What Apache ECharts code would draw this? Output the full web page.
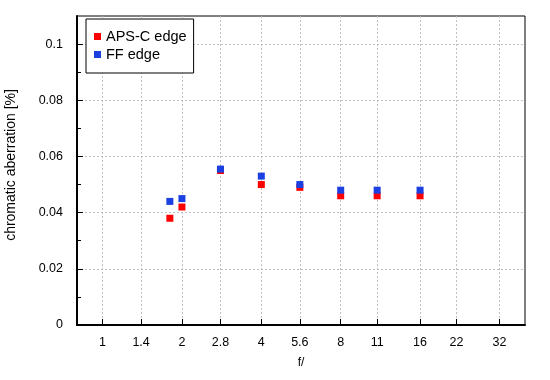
<!DOCTYPE html>
<html>
<head>
<meta charset="utf-8">
<script src="https://cdn.jsdelivr.net/npm/echarts@6/dist/echarts.min.js"></script>
<style>
html,body{margin:0;padding:0;background:#fff;}
#chart{width:550px;height:380px;}
</style>
</head>
<body>
<div id="chart"></div>
<script>
// ---- data ----
var apertures = [1.8, 2, 2.8, 4, 5.6, 8, 11, 16];
var apscEdge = [0.038, 0.042, 0.055, 0.050, 0.049, 0.046, 0.046, 0.046];
var ffEdge = [0.044, 0.045, 0.0555, 0.053, 0.050, 0.048, 0.048, 0.048];
var xTickValues = [1, 1.4, 2, 2.8, 4, 5.6, 8, 11, 16, 22, 32];
var xTickLabels = ['1', '1.4', '2', '2.8', '4', '5.6', '8', '11', '16', '22', '32'];
var yMajorTicks = [0, 0.02, 0.04, 0.06, 0.08, 0.1];
var yMinorTicks = [0.01, 0.03, 0.05, 0.07, 0.09];
var yTickLabels = ['0', '0.02', '0.04', '0.06', '0.08', '0.1'];
var seriesNames = ['APS-C edge', 'FF edge'];

var FONT = '"Liberation Sans", Arial, sans-serif';
function pairs(xs, ys) { return xs.map(function (x, i) { return [x, ys[i]]; }); }

var chart = echarts.init(document.getElementById('chart'), null, {renderer: 'canvas'});
chart.setOption({
  animation: false,
  backgroundColor: '#fff',
  textStyle: {fontFamily: FONT},
  grid: {left: 77, right: 25, top: 16, bottom: 55, containLabel: false, outerBoundsMode: 'none',
    show: true, borderColor: '#000', borderWidth: 1, backgroundColor: 'transparent'},
  legend: {
    left: 86, top: 19, orient: 'vertical',
    data: seriesNames,
    backgroundColor: '#fff', borderColor: '#000', borderWidth: 1, borderRadius: 0,
    padding: [10, 7, 11, 8], itemGap: 3, itemWidth: 7, itemHeight: 7, icon: 'rect',
    itemStyle: {borderWidth: 0, opacity: 1},
    textStyle: {fontSize: 14.5, color: '#000', fontFamily: FONT}, itemTextGap: 7
  },
  xAxis: {
    type: 'log', logBase: 2, min: 0.8, max: 40,
    name: 'f/', nameLocation: 'middle', nameGap: 32,
    nameTextStyle: {fontSize: 12, color: '#000', fontFamily: FONT},
    axisLine: {show: true, lineStyle: {color: '#000', width: 2}},
    axisTick: {show: true, inside: true, length: 6, customValues: xTickValues, lineStyle: {color: '#000', width: 1}},
    axisLabel: {customValues: xTickValues, fontSize: 12.5, color: '#000', margin: 11, fontFamily: FONT,
      formatter: function (v) { var i = xTickValues.indexOf(v); return i >= 0 ? xTickLabels[i] : ''; }},
    splitLine: {show: true, lineStyle: {color: '#c0c0c0', type: [2, 2], width: 1}},
    minorTick: {show: false}
  },
  yAxis: [{
    type: 'value', min: 0, max: 0.11,
    name: 'chromatic aberration [%]', nameLocation: 'middle', nameGap: 59,
    nameTextStyle: {fontSize: 14, color: '#000', fontFamily: FONT, padding: [0, 0, 0, 11]},
    axisLine: {show: true, lineStyle: {color: '#000', width: 2}},
    axisTick: {show: true, inside: true, length: 6, customValues: yMajorTicks, lineStyle: {color: '#000', width: 1}},
    axisLabel: {customValues: yMajorTicks, fontSize: 12.5, color: '#000', margin: 14, fontFamily: FONT,
      formatter: function (v) { for (var i = 0; i < yMajorTicks.length; i++) { if (Math.abs(yMajorTicks[i] - v) < 1e-9) return yTickLabels[i]; } return ''; }},
    splitLine: {show: true, lineStyle: {color: '#c0c0c0', type: [2, 2], width: 1}}
  }, {
    type: 'value', min: 0, max: 0.11, position: 'left',
    axisLine: {show: false},
    axisTick: {show: true, inside: true, length: 4, customValues: yMinorTicks, lineStyle: {color: '#000', width: 1}},
    axisLabel: {show: false},
    splitLine: {show: false}
  }],
  series: [{
    name: seriesNames[0], type: 'scatter', symbol: 'rect', symbolSize: 7,
    itemStyle: {color: '#ff0000', opacity: 1}, data: pairs(apertures, apscEdge)
  }, {
    name: seriesNames[1], type: 'scatter', symbol: 'rect', symbolSize: 7,
    itemStyle: {color: '#1b40e2', opacity: 1}, data: pairs(apertures, ffEdge)
  }]
});
</script>
</body>
</html>
